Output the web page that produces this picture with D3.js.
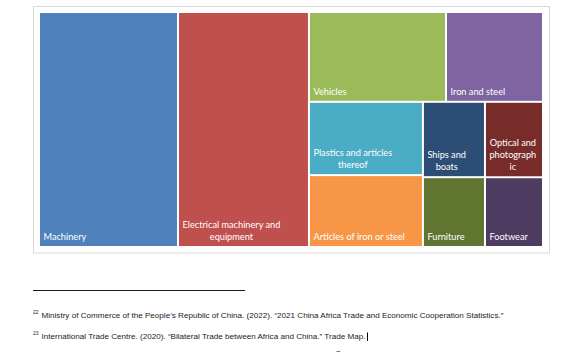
<!DOCTYPE html>
<html>
<head>
<meta charset="utf-8">
<script src="https://cdn.jsdelivr.net/npm/d3@7"></script>
<style>
  html, body { margin: 0; padding: 0; background: #ffffff; }
  svg { display: block; }
</style>
</head>
<body>
<svg id="chart" width="584" height="352"></svg>
<script>
// ---- Data ----
const categories = [
  "Machinery",
  "Electrical machinery and equipment",
  "Vehicles",
  "Iron and steel",
  "Plastics and articles thereof",
  "Articles of iron or steel",
  "Ships and boats",
  "Optical and photographic",
  "Furniture",
  "Footwear"
];
const values = [27.6, 26.0, 10.4, 7.36, 7.06, 6.92, 3.95, 3.70, 3.66, 3.42];
const colors = [
  "#4F81BD", "#C0504D", "#9BBB59", "#8064A2", "#4BACC6",
  "#F79646", "#2C4D75", "#772C2A", "#5F7530", "#4D3B62"
];
const footnoteNumbers = ["22", "23"];
const footnotes = [
  "Ministry of Commerce of the People\u2019s Republic of China. (2022). \u201C2021 China Africa Trade and Economic Cooperation Statistics.\u201D",
  "International Trade Centre. (2020). \u201CBilateral Trade between Africa and China.\u201D Trade Map."
];
const pageNumber = "7";

// ---- Hierarchy (grouping mirrors the reference's tiling) ----
const leaf = i => ({ name: categories[i], value: values[i], color: colors[i] });
const tree = {
  children: [
    leaf(0), leaf(1),
    { children: [
      { children: [leaf(2), leaf(3)] },
      { children: [
        { children: [leaf(4), leaf(5)] },
        { children: [leaf(6), leaf(8)] },
        { children: [leaf(7), leaf(9)] }
      ] }
    ] }
  ]
};

const svg = d3.select("#chart");

// Chart frame
svg.append("rect")
  .attr("x", 33.5).attr("y", 6.5)
  .attr("width", 516).attr("height", 246.5)
  .attr("fill", "#ffffff")
  .attr("stroke", "#d9d9d9")
  .attr("stroke-width", 1);

const W = 502, H = 233;
const root = d3.hierarchy(tree).sum(d => d.value || 0);
d3.treemap()
  .tile(d3.treemapSliceDice)
  .size([W, H])
  .paddingInner(2)
  .round(false)(root);

const g = svg.append("g").attr("transform", "translate(40,13)");

const leaves = root.leaves();
const cell = g.selectAll("g.cell").data(leaves).join("g").attr("class", "cell");

cell.append("rect")
  .attr("x", d => d.x0).attr("y", d => d.y0)
  .attr("width", d => d.x1 - d.x0)
  .attr("height", d => d.y1 - d.y0)
  .attr("fill", d => d.data.color);

const FONT = "Lato, 'Open Sans', sans-serif";
const FS = 9.2;
const LH = 12;

// measuring helper
const meas = svg.append("text").attr("font-family", FONT).attr("font-size", FS).attr("visibility", "hidden");
function tw(s) { meas.text(s); return meas.node().getComputedTextLength(); }

function wrap(text, maxW) {
  const words = text.split(" ");
  const lines = [];
  let cur = "";
  for (const w of words) {
    const trial = cur ? cur + " " + w : w;
    if (tw(trial) <= maxW) { cur = trial; continue; }
    if (cur) { lines.push(cur); cur = ""; }
    if (tw(w) <= maxW) { cur = w; continue; }
    // break long word by characters
    let part = "";
    for (const ch of w) {
      if (tw(part + ch) <= maxW) part += ch;
      else { lines.push(part); part = ch; }
    }
    cur = part;
  }
  if (cur) lines.push(cur);
  return lines;
}

cell.each(function(d) {
  const w = d.x1 - d.x0;
  const lines = wrap(d.data.name, w - 9);
  const maxLW = d3.max(lines, tw);
  const cx = d.x0 + 3.5 + maxLW / 2;
  const baseBottom = d.y1 - 6;
  const t = d3.select(this).append("text")
    .attr("font-family", FONT)
    .attr("font-size", FS)
    .attr("fill", "#ffffff")
    .attr("text-anchor", "middle");
  lines.forEach((ln, i) => {
    t.append("tspan")
      .attr("x", cx)
      .attr("y", baseBottom - (lines.length - 1 - i) * LH)
      .text(ln);
  });
});
meas.remove();

// ---- Footnotes ----
svg.append("line")
  .attr("x1", 33).attr("x2", 245)
  .attr("y1", 290.5).attr("y2", 290.5)
  .attr("stroke", "#000").attr("stroke-width", 0.9);

const FN_FONT = "'Liberation Sans', Arial, sans-serif";
const fnY = [318, 339];
footnotes.forEach((txt, i) => {
  svg.append("text")
    .attr("x", 33).attr("y", fnY[i] - 4)
    .attr("font-family", FN_FONT).attr("font-size", 5)
    .attr("fill", "#222")
    .text(footnoteNumbers[i]);
  svg.append("text")
    .attr("class", "fn")
    .attr("x", 41.5).attr("y", fnY[i])
    .attr("font-family", FN_FONT).attr("font-size", 8.1)
    .attr("fill", "#222")
    .text(txt);
});

// text cursor after the second footnote
svg.append("line")
  .attr("x1", 367.5).attr("x2", 367.5)
  .attr("y1", 332.5).attr("y2", 341)
  .attr("stroke", "#000").attr("stroke-width", 1);

svg.append("text")
  .attr("x", 338).attr("y", 355.5)
  .attr("font-family", FN_FONT).attr("font-size", 8.1)
  .attr("fill", "#222")
  .attr("text-anchor", "middle")
  .text(pageNumber);
</script>
</body>
</html>
